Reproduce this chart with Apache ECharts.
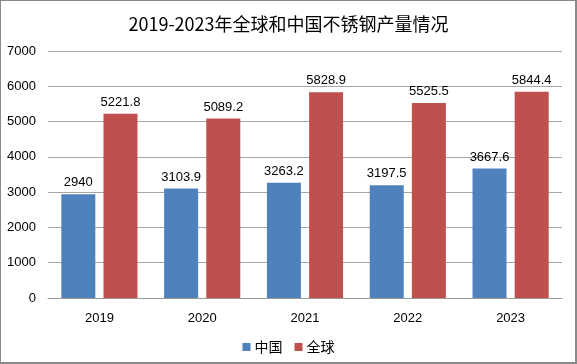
<!DOCTYPE html>
<html>
<head>
<meta charset="utf-8">
<script src="https://cdn.jsdelivr.net/npm/echarts@6/dist/echarts.min.js"></script>
<style>
html,body{margin:0;padding:0;background:#fff;}
#wrap{position:absolute;left:0;top:0;width:577px;height:364px;box-sizing:border-box;border-style:solid;border-color:#8a8a8a;border-width:1px 2px 2px 1px;}
#c{position:absolute;left:0;top:0;width:577px;height:364px;}
</style>
</head>
<body>
<div id="c"></div>
<div id="wrap"></div>
<script>
const titleText = '2019-2023年全球和中国不锈钢产量情况';
const categories = ['2019', '2020', '2021', '2022', '2023'];
const seriesNames = ['中国', '全球'];
const chinaValues = [2940, 3103.9, 3263.2, 3197.5, 3667.6];
const globalValues = [5221.8, 5089.2, 5828.9, 5525.5, 5844.4];
const yTicks = [0, 1000, 2000, 3000, 4000, 5000, 6000, 7000];

const chart = echarts.init(document.getElementById('c'), null, {renderer: 'canvas'});
const font = '"Liberation Sans", "Noto Sans CJK SC", sans-serif';
const labelStyle = {
  show: true, position: 'top', distance: 5,
  color: '#000', fontSize: 13, fontFamily: font,
  formatter: p => String(p.value)
};
chart.setOption({
  animation: false,
  backgroundColor: '#fff',
  title: {
    text: titleText, left: 'center', top: 10,
    textStyle: {fontSize: 18, fontWeight: 'normal', color: '#000', fontFamily: '"Noto Sans CJK SC", sans-serif'}
  },
  legend: {
    data: seriesNames, bottom: 5, left: 'center',
    itemWidth: 8, itemHeight: 8, itemGap: 12, icon: 'rect',
    textStyle: {fontSize: 14, color: '#000', fontFamily: '"Noto Sans CJK SC", sans-serif', padding: [0,0,0,-1]}
  },
  grid: {left: 48, right: 15, top: 51, bottom: 66},
  xAxis: {
    type: 'category', data: categories,
    axisLine: {lineStyle: {color: '#9a9a9a', width: 1}},
    axisTick: {show: false},
    axisLabel: {color: '#000', fontSize: 13, fontFamily: font, margin: 14}
  },
  yAxis: {
    type: 'value', min: yTicks[0], max: yTicks[yTicks.length - 1], interval: 1000,
    axisLine: {show: false}, axisTick: {show: false},
    axisLabel: {color: '#000', fontSize: 13, fontFamily: font, margin: 12, formatter: v => String(v)},
    splitLine: {lineStyle: {color: '#a6a6a6', width: 1}}
  },
  series: [
    {name: seriesNames[0], type: 'bar', data: chinaValues, barWidth: 34, barGap: '24%',
     itemStyle: {color: '#4F81BD'}, label: labelStyle},
    {name: seriesNames[1], type: 'bar', data: globalValues, barWidth: 34,
     itemStyle: {color: '#C0504D'}, label: labelStyle}
  ]
});
</script>
</body>
</html>
